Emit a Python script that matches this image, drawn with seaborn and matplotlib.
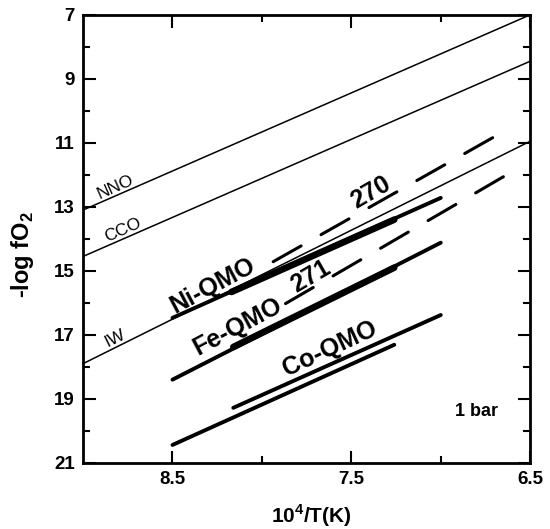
import matplotlib
matplotlib.use('Agg')
import numpy as np
import pandas as pd
import matplotlib.pyplot as plt
import seaborn as sns

# buffer curves (thin lines across the whole plot)
buffer_x = [9.0, 6.5]
nno_y = [13.1, 7.0]
cco_y = [14.55, 8.45]
iw_y = [17.9, 10.95]

# QMO buffers: long solid, short bold, dashed extension
ni_x = [8.5, 7.0]
ni_y = [16.47, 12.72]
ni_bold_x = [8.17, 7.26]
ni_bold_y = [15.66, 13.4]
ni_dash_x = [7.98, 6.71]
ni_dash_y = [14.85, 10.84]

fe_x = [8.5, 7.0]
fe_y = [18.4, 14.12]
fe_bold_x = [8.16, 7.26]
fe_bold_y = [17.38, 14.9]
fe_dash_x = [7.91, 6.65]
fe_dash_y = [16.16, 12.06]

co_x = [8.16, 7.0]
co_y = [19.28, 16.38]
co2_x = [8.5, 7.26]
co2_y = [20.44, 17.31]

x_ticks = [8.5, 7.5, 6.5]
y_ticks = [7, 9, 11, 13, 15, 17, 19, 21]

sns.set_style('ticks', {'axes.edgecolor': 'black', 'text.color': 'black',
                        'axes.labelcolor': 'black', 'xtick.color': 'black',
                        'ytick.color': 'black'})
plt.rcParams['font.family'] = ['Liberation Sans', 'DejaVu Sans']

fig = plt.figure(figsize=(5.5, 5.29), dpi=100)
ax = fig.add_axes([0.151, 0.125, 0.813, 0.847])

k = 'black'
dash = (0, (10.5, 7.5))
sns.lineplot(x=buffer_x, y=nno_y, ax=ax, color=k, lw=1.1)
sns.lineplot(x=buffer_x, y=cco_y, ax=ax, color=k, lw=1.1)
sns.lineplot(x=buffer_x, y=iw_y, ax=ax, color=k, lw=1.1)

sns.lineplot(x=ni_x, y=ni_y, ax=ax, color=k, lw=2.8, solid_capstyle='round')
sns.lineplot(x=ni_bold_x, y=ni_bold_y, ax=ax, color=k, lw=4.8, solid_capstyle='round')
sns.lineplot(x=ni_dash_x, y=ni_dash_y, ax=ax, color=k, lw=2.2,
             linestyle=dash, dash_capstyle='round')

sns.lineplot(x=fe_x, y=fe_y, ax=ax, color=k, lw=2.8, solid_capstyle='round')
sns.lineplot(x=fe_bold_x, y=fe_bold_y, ax=ax, color=k, lw=4.8, solid_capstyle='round')
sns.lineplot(x=fe_dash_x, y=fe_dash_y, ax=ax, color=k, lw=2.2,
             linestyle=dash, dash_capstyle='round')

sns.lineplot(x=co_x, y=co_y, ax=ax, color=k, lw=2.8, solid_capstyle='round')
sns.lineplot(x=co2_x, y=co2_y, ax=ax, color=k, lw=2.8, solid_capstyle='round')

# labels
ax.text(8.82, 12.38, 'NNO', rotation=24, fontsize=12.5, ha='center', va='center')
ax.text(8.775, 13.72, 'CCO', rotation=24, fontsize=12.5, ha='center', va='center')
ax.text(8.82, 17.1, 'IW', rotation=26, fontsize=12.5, ha='center', va='center')
ax.text(8.275, 15.47, 'Ni-QMO', rotation=28, fontsize=18, fontweight='bold',
        ha='center', va='center')
ax.text(8.135, 16.75, 'Fe-QMO', rotation=28, fontsize=18, fontweight='bold',
        ha='center', va='center')
ax.text(7.62, 17.44, 'Co-QMO', rotation=25, fontsize=18, fontweight='bold',
        ha='center', va='center')
ax.text(7.39, 12.56, '270', rotation=30, fontsize=18, fontweight='bold',
        ha='center', va='center')
ax.text(7.725, 15.19, '271', rotation=30, fontsize=18, fontweight='bold',
        ha='center', va='center')
ax.text(6.80, 19.4, '1 bar', fontsize=13, fontweight='bold', ha='center', va='center')

ax.set_xlim(9.0, 6.5)
ax.set_ylim(21, 7)
ax.set_xticks(x_ticks)
ax.set_xticklabels([str(t) for t in x_ticks])
ax.set_xticks([8.0, 7.0], minor=True)
ax.set_yticks(y_ticks)
ax.set_yticklabels([str(t) for t in y_ticks])
ax.set_yticks(np.arange(8, 21, 2), minor=True)

ax.tick_params(which='both', direction='in', top=True, right=True, width=1.5,
               color='black', labelcolor='black')
ax.tick_params(which='major', length=9, labelsize=13.5, pad=6)
ax.tick_params(which='minor', length=5)
for lab in ax.get_xticklabels() + ax.get_yticklabels():
    lab.set_fontweight('bold')
for s in ax.spines.values():
    s.set_linewidth(2)
    s.set_color('black')
    s.set_visible(True)

ax.set_xlabel('10$^\\mathregular{4}$/T(K)', fontsize=15, fontweight='bold', va='center')
ax.set_ylabel('-log fO$_\\mathregular{2}$', fontsize=17, fontweight='bold', va='center')
ax.xaxis.set_label_coords(0.51, -0.118)
ax.yaxis.set_label_coords(-0.136, 0.464)

fig.savefig('out.png', dpi=100)
